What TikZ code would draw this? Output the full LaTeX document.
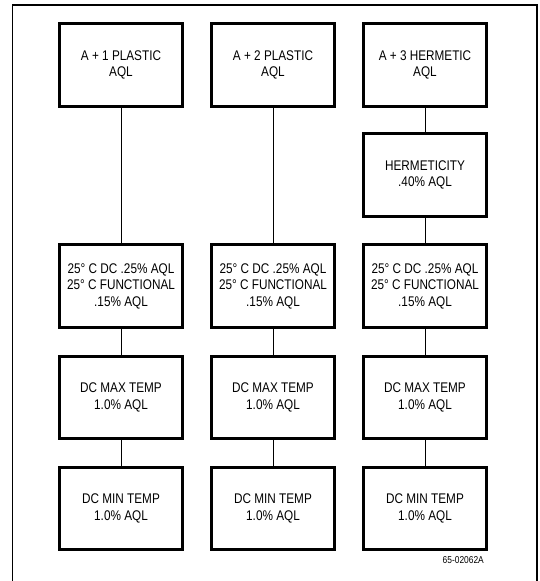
\documentclass[tikz,border=0pt]{standalone}
\usepackage{fontspec}
\setmainfont{Liberation Sans}[FakeStretch=0.84]
\usetikzlibrary{positioning}

\tikzset{
  testbox/.style={draw, line width=2.6pt, minimum width=123pt, minimum height=82.5pt,
    align=center, inner sep=2pt, font=\fontsize{14}{16.5}\selectfont},
  link/.style={line width=1pt}
}

\begin{document}
\begin{tikzpicture}[x=1pt, y=-1pt]
  \useasboundingbox (0,0) rectangle (540,581);

  % Frame
  \draw[line width=1.2pt] (12.5,581) -- (12.5,5) -- (537,5) -- (537,581);

  % Lot boxes
  \node[testbox] (lot1) at (121,65) {A + 1 PLASTIC\\AQL};
  \node[testbox] (lot2) at (273,65) {A + 2 PLASTIC\\AQL};
  \node[testbox] (lot3) at (425,65) {A + 3 HERMETIC\\AQL};
  \node[testbox] (herm3) at (425,175) {HERMETICITY\\.40\% AQL};

  % Electrical tests
  \foreach \c/\x in {1/121, 2/273, 3/425} {
    \node[testbox] (room\c) at (\x,286) {25° C DC .25\% AQL\\25° C FUNCTIONAL\\.15\% AQL};
    \node[testbox] (hot\c) at (\x,397.5) {DC MAX TEMP\\1.0\% AQL};
    \node[testbox] (cold\c) at (\x,508.5) {DC MIN TEMP\\1.0\% AQL};
    \draw[link] (room\c) -- (hot\c);
    \draw[link] (hot\c) -- (cold\c);
  }

  % Flow lines
  \draw[link] (lot1) -- (room1);
  \draw[link] (lot2) -- (room2);
  \draw[link] (lot3) -- (herm3);
  \draw[link] (herm3) -- (room3);

  \node[anchor=base east, inner sep=0pt, font=\fontsize{10}{11}\selectfont] (figno) at (484,563) {65-02062A};
\end{tikzpicture}
\end{document}
